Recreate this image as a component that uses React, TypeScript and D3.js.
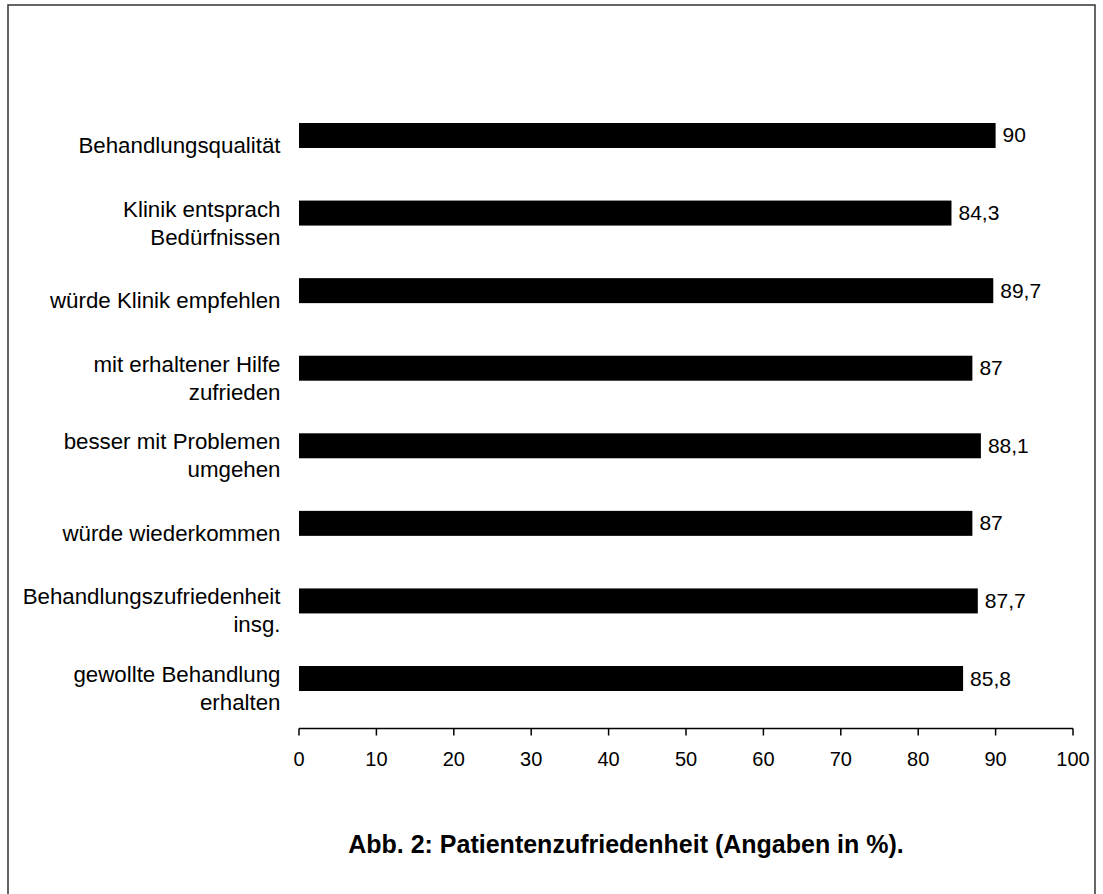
import React from "react";
import * as d3 from "d3";

const categories: string[] = [
  "Behandlungsqualität",
  "Klinik entsprach\nBedürfnissen",
  "würde Klinik empfehlen",
  "mit erhaltener Hilfe\nzufrieden",
  "besser mit Problemen\numgehen",
  "würde wiederkommen",
  "Behandlungszufriedenheit\ninsg.",
  "gewollte Behandlung\nerhalten",
];
const values: number[] = [90, 84.3, 89.7, 87, 88.1, 87, 87.7, 85.8];
const valueLabels: string[] = ["90", "84,3", "89,7", "87", "88,1", "87", "87,7", "85,8"];
const tickValues: number[] = [0, 10, 20, 30, 40, 50, 60, 70, 80, 90, 100];
const title = "Abb. 2: Patientenzufriedenheit (Angaben in %).";

const W = 1103;
const H = 894;
const FONT = "'Liberation Sans', Arial, Helvetica, sans-serif";

export default function App() {
  const x = d3.scaleLinear().domain([0, 100]).range([299, 1073]);
  const y = d3
    .scaleBand<string>()
    .domain(categories)
    .range([123, 691])
    .paddingInner(0.678)
    .paddingOuter(0);
  const axisY = 728.5;
  const lh = 28;

  return (
    <div style={{ position: "absolute", left: 0, top: 0 }}>
      <svg width={W} height={H} style={{ display: "block" }}>
        <rect x={0} y={0} width={W} height={H} fill="#fff" />
        <rect x={8} y={5} width={1087} height={905} fill="none" stroke="#333" strokeWidth={1.5} />
        {categories.map((c, i) => {
          const top = y(c) as number;
          const bw = y.bandwidth();
          const cy = top + bw / 2;
          const lines = c.split("\n");
          const n = lines.length;
          return (
            <g key={c}>
              <rect x={x(0)} y={top} width={x(values[i]) - x(0)} height={bw} fill="#000" />
              <text
                x={x(values[i]) + 7}
                y={cy + 7}
                fontFamily={FONT}
                fontSize={21}
                fill="#000"
              >
                {valueLabels[i]}
              </text>
              {lines.map((ln, j) => (
                <text
                  key={j}
                  x={280.5}
                  y={cy + 9.5 + (j - (n - 1) / 2) * lh + 8}
                  textAnchor="end"
                  fontFamily={FONT}
                  fontSize={22.3}
                  fill="#000"
                >
                  {ln}
                </text>
              ))}
            </g>
          );
        })}
        <line x1={x(0)} x2={x(100)} y1={axisY} y2={axisY} stroke="#000" strokeWidth={1.5} />
        {tickValues.map((t) => (
          <g key={t}>
            <line x1={x(t)} x2={x(t)} y1={axisY} y2={axisY + 7} stroke="#000" strokeWidth={1.5} />
            <text
              x={x(t)}
              y={axisY + 37}
              textAnchor="middle"
              fontFamily={FONT}
              fontSize={20}
              fill="#000"
            >
              {t}
            </text>
          </g>
        ))}
        <text
          x={626}
          y={853}
          textAnchor="middle"
          fontFamily={FONT}
          fontSize={25}
          fontWeight="bold"
          fill="#000"
        >
          {title}
        </text>
      </svg>
    </div>
  );
}
